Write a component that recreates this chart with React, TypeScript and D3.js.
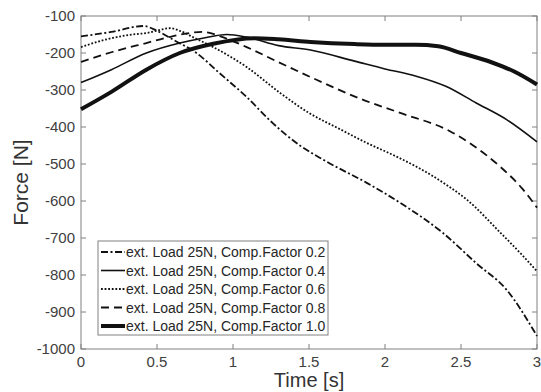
import { useEffect, useRef } from 'react'
import * as d3 from 'd3'

const time02 = [0, 0.2, 0.41, 0.5, 0.61, 0.76, 0.91, 1.09, 1.26, 1.44, 1.6, 1.88, 2.1, 2.38, 2.6, 2.8, 3.0]
const force02 = [-155, -143, -127, -140, -165, -200, -254, -319, -389, -450, -490, -551, -605, -686, -768, -840, -965]

const time04 = [0, 0.2, 0.43, 0.65, 0.8, 0.96, 1.09, 1.3, 1.51, 1.8, 2.0, 2.2, 2.4, 2.6, 2.8, 3.0]
const force04 = [-280, -245, -200, -173, -160, -150, -157, -180, -192, -222, -243, -262, -290, -335, -380, -440]

const time06 = [0, 0.15, 0.32, 0.43, 0.59, 0.65, 0.75, 0.87, 1.09, 1.31, 1.5, 1.7, 1.88, 2.05, 2.21, 2.4, 2.54, 2.76, 2.9, 3.0]
const force06 = [-184, -165, -151, -146, -133, -140, -160, -184, -238, -308, -362, -405, -443, -475, -508, -555, -597, -686, -745, -790]

const time08 = [0, 0.2, 0.43, 0.6, 0.8, 0.95, 1.09, 1.3, 1.51, 1.84, 2.1, 2.43, 2.58, 2.76, 2.9, 3.0]
const force08 = [-224, -198, -173, -155, -143, -160, -184, -225, -265, -324, -362, -412, -450, -508, -565, -618]

const time10 = [0, 0.2, 0.43, 0.65, 0.87, 1.14, 1.3, 1.51, 1.8, 2.0, 2.2, 2.35, 2.5, 2.7, 2.85, 3.0]
const force10 = [-352, -305, -245, -200, -175, -160, -163, -170, -176, -178, -178, -182, -200, -225, -250, -285]

const legendLabels = [
    'ext. Load 25N, Comp.Factor 0.2',
    'ext. Load 25N, Comp.Factor 0.4',
    'ext. Load 25N, Comp.Factor 0.6',
    'ext. Load 25N, Comp.Factor 0.8',
    'ext. Load 25N, Comp.Factor 1.0',
]
const xTicks = [0, 0.5, 1, 1.5, 2, 2.5, 3]
const yTicks = [-100, -200, -300, -400, -500, -600, -700, -800, -900, -1000]

function App() {
    const chartRef = useRef<SVGSVGElement | null>(null)
    const width = 541, height = 392
    const marginLeft = 81, marginRight = 4, marginTop = 16, marginBottom = 43

    useEffect(() => {
        d3.select(chartRef.current).selectAll("*").remove();
        const svg = d3.select(chartRef.current)

        const x = d3.scaleLinear().domain([0, 3]).range([marginLeft, width - marginRight])
        const y = d3.scaleLinear().domain([-1000, -100]).range([height - marginBottom, marginTop])

        const series = [
            { t: time02, f: force02, dash: "7,2.5,2,2.5", w: 1.8 },
            { t: time04, f: force04, dash: null, w: 1.6 },
            { t: time06, f: force06, dash: "1.8,1.8", w: 1.8 },
            { t: time08, f: force08, dash: "8,5", w: 1.8 },
            { t: time10, f: force10, dash: null, w: 4 },
        ]

        const line = d3.line<[number, number]>()
            .x(d => x(d[0]))
            .y(d => y(d[1]))
            .curve(d3.curveMonotoneX)

        const font = "'Liberation Sans', Arial, sans-serif"

        // axes box, ticks point inward on all four sides
        const axis = svg.append("g").attr("stroke", "#808080").attr("stroke-width", 1)
        axis.append("rect")
            .attr("x", marginLeft).attr("y", marginTop)
            .attr("width", x(3) - x(0)).attr("height", y(-1000) - y(-100))
            .attr("fill", "#fff")
        xTicks.forEach(t => {
            axis.append("line").attr("x1", x(t)).attr("x2", x(t)).attr("y1", y(-1000)).attr("y2", y(-1000) - 5)
            axis.append("line").attr("x1", x(t)).attr("x2", x(t)).attr("y1", y(-100)).attr("y2", y(-100) + 5)
        })
        yTicks.forEach(v => {
            axis.append("line").attr("x1", x(0)).attr("x2", x(0) + 5).attr("y1", y(v)).attr("y2", y(v))
            axis.append("line").attr("x1", x(3)).attr("x2", x(3) - 5).attr("y1", y(v)).attr("y2", y(v))
        })

        svg.append("g")
            .selectAll("text")
            .data(xTicks)
            .join("text")
            .attr("x", d => x(d))
            .attr("y", 367)
            .attr("text-anchor", "middle")
            .attr("font-family", font)
            .attr("font-size", 15)
            .attr("fill", "#404040")
            .text(d => String(d))

        svg.append("g")
            .selectAll("text")
            .data(yTicks)
            .join("text")
            .attr("x", 75)
            .attr("y", d => y(d) + 5)
            .attr("text-anchor", "end")
            .attr("font-family", font)
            .attr("font-size", 15)
            .attr("fill", "#404040")
            .text(d => String(d))

        svg.append("text")
            .attr("x", (x(0) + x(3)) / 2)
            .attr("y", 387)
            .attr("text-anchor", "middle")
            .attr("font-family", font)
            .attr("font-size", 20)
            .attr("fill", "#333")
            .text("Time [s]")

        svg.append("text")
            .attr("transform", `translate(28,${(y(-100) + y(-1000)) / 2}) rotate(-90)`)
            .attr("text-anchor", "middle")
            .attr("font-family", font)
            .attr("font-size", 21)
            .attr("fill", "#333")
            .text("Force [N]")

        const plot = svg.append("g")
        series.forEach(s => {
            const pts = s.t.map((t, i) => [t, s.f[i]] as [number, number])
            plot.append("path")
                .attr("d", line(pts))
                .attr("fill", "none")
                .attr("stroke", "#111")
                .attr("stroke-width", s.w)
                .attr("stroke-dasharray", s.dash)
        })

        // legend
        const lg = svg.append("g")
        lg.append("rect")
            .attr("x", 98).attr("y", 241).attr("width", 230).attr("height", 94)
            .attr("fill", "#fff").attr("stroke", "#808080").attr("stroke-width", 1)
        series.forEach((s, i) => {
            const yy = 252 + i * 18.5
            lg.append("line")
                .attr("x1", 101).attr("x2", 125).attr("y1", yy).attr("y2", yy)
                .attr("stroke", "#111").attr("stroke-width", s.w)
                .attr("stroke-dasharray", s.dash)
            lg.append("text")
                .attr("x", 126).attr("y", yy + 5)
                .attr("font-family", font)
                .attr("font-size", 14)
                .attr("fill", "#262626")
                .text(legendLabels[i])
        })
    }, []);

    return (
        <svg ref={chartRef} width={width} height={height}
            style={{ position: 'absolute', left: 0, top: 0, background: '#fff' }}></svg>
    )
}

export default App
